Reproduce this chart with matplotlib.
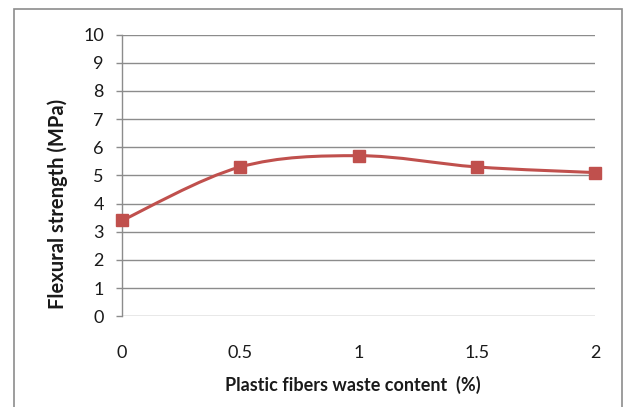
import numpy as np
import matplotlib
matplotlib.use("Agg")
import matplotlib.pyplot as plt
from matplotlib.path import Path
from matplotlib.patches import PathPatch, Rectangle

plt.rcParams['font.family'] = ['Lato', 'DejaVu Sans']

fiber_content = [0, 0.5, 1, 1.5, 2]
flexural_strength = [3.4, 5.3, 5.7, 5.3, 5.1]
x_tick_labels = ['0', '0.5', '1', '1.5', '2']
y_ticks = list(range(0, 11))

line_color = '#C0504D'
grid_color = '#8C8C8C'
text_color = '#1A1A1A'

fig = plt.figure(figsize=(6.25, 4.07), dpi=100)
ax = fig.add_axes([0.1952, 0.2229, 0.952 - 0.1952, 0.9152 - 0.2229])

# smoothed line through the points (cubic Bezier segments, Catmull-Rom style)
x = np.array(fiber_content, dtype=float)
y = np.array(flexural_strength, dtype=float)
pts = np.column_stack([x, y])
ext = np.vstack([pts[0], pts, pts[-1]])
verts = [tuple(pts[0])]
codes = [Path.MOVETO]
for i in range(len(pts) - 1):
    p0, p1, p2, p3 = ext[i], ext[i + 1], ext[i + 2], ext[i + 3]
    c1 = p1 + (p2 - p0) / 6.0
    c2 = p2 - (p3 - p1) / 6.0
    verts += [tuple(c1), tuple(c2), tuple(p2)]
    codes += [Path.CURVE4] * 3
ax.add_patch(PathPatch(Path(verts, codes), facecolor='none', edgecolor=line_color,
                       lw=2.2, zorder=3, capstyle='round', joinstyle='round'))
ax.plot(x, y, linestyle='none', marker='s', markersize=9, color=line_color,
        markeredgecolor=line_color, zorder=4, clip_on=False)

ax.set_xlim(0, 2)
ax.set_ylim(0, 10)
ax.set_yticks(y_ticks)
ax.set_xticks(fiber_content)
ax.set_xticklabels(x_tick_labels)

ax.grid(axis='y', color=grid_color, linewidth=1.0)
ax.set_axisbelow(True)
for side in ['top', 'right', 'bottom']:
    ax.spines[side].set_visible(False)
ax.spines['left'].set_color(grid_color)
ax.spines['left'].set_linewidth(1.0)

ax.tick_params(axis='y', direction='out', length=4, width=1.0, color=grid_color,
               labelsize=13, labelcolor=text_color, pad=9)
ax.tick_params(axis='x', length=0, labelsize=13, labelcolor=text_color, pad=21)

ax.set_xlabel('Plastic fibers waste content  (%)', fontsize=13, fontweight='bold',
              color=text_color, va='center')
ax.set_ylabel('Flexural strength (MPa)', fontsize=14.5, fontweight='bold',
              color=text_color, va='center')
ax.xaxis.set_label_coords(0.487, -0.245)
ax.yaxis.set_label_coords(-0.135, 0.4)

# outer chart frame
fig.patches.append(Rectangle((14 / 625, -0.05), (622 - 14) / 625, 1 - 9 / 407 + 0.05,
                             transform=fig.transFigure, fill=False,
                             edgecolor='#8C8C8C', linewidth=1.2, zorder=0))

fig.savefig('out.png', dpi=100)
